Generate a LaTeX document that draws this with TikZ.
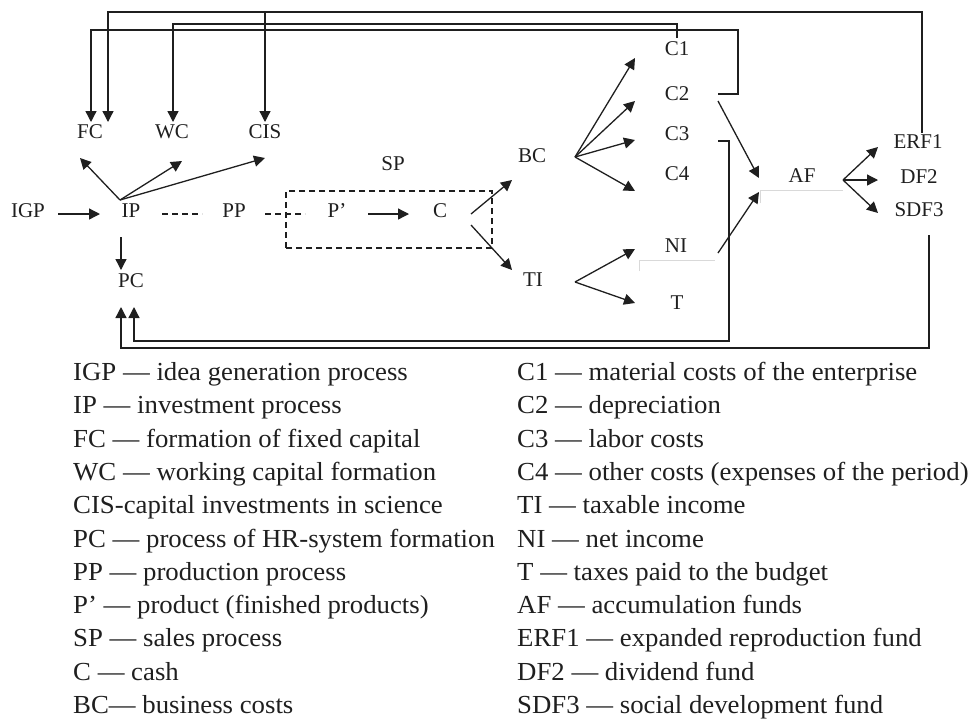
\documentclass[tikz,border=0pt]{standalone}
\usepackage{fontspec}
\setmainfont{Liberation Serif}
\newfontfamily\legfont[FakeStretch=1.03]{Liberation Serif}
\usetikzlibrary{arrows.meta,calc}
\begin{document}
\begin{tikzpicture}[x=1pt,y=-1pt,
  lbl/.style={inner sep=0pt, text height=0.7em, text depth=0pt, font=\fontsize{21}{25}\selectfont, text=black!88},
  leg/.style={anchor=west, inner sep=0pt, text height=0.7em, text depth=0pt, font=\legfont\fontsize{26}{31}\selectfont, text=black!88},
  ln/.style={line width=1.3pt, black!88},
  ar/.style={ln, -{Triangle[length=11pt,width=11pt]}},
  dsh/.style={line width=1.3pt, black!88, dash pattern=on 6pt off 4pt},
  faint/.style={line width=0.8pt, gray!30}]
\useasboundingbox (0,0) rectangle (976,724);

% ---- labels
\node[lbl] (IGP) at (28,214) {IGP};
\node[lbl] (IP)  at (131,214) {IP};
\node[lbl] (PP)  at (234,214) {PP};
\node[lbl] (Pp)  at (337,214) {P’};
\node[lbl] (C)   at (440,214) {C};
\node[lbl] (PC)  at (131,284) {PC};
\node[lbl] (FC)  at (90,135) {FC};
\node[lbl] (WC)  at (172,135) {WC};
\node[lbl] (CIS) at (265,135) {CIS};
\node[lbl] (SP)  at (393,167) {SP};
\node[lbl] (BC)  at (532,159) {BC};
\node[lbl] (TI)  at (533,283) {TI};
\node[lbl] (C1)  at (677,52) {C1};
\node[lbl] (C2)  at (677,97) {C2};
\node[lbl] (C3)  at (677,137) {C3};
\node[lbl] (C4)  at (677,177) {C4};
\node[lbl] (NI)  at (676,249) {NI};
\node[lbl] (T)   at (677,306) {T};
\node[lbl] (AF)  at (802,179) {AF};
\node[lbl] (ERF1) at (918,145) {ERF1};
\node[lbl] (DF2)  at (919,180) {DF2};
\node[lbl] (SDF3) at (919,213) {SDF3};

% ---- dashed box (sales process)
\node[dsh, draw, minimum width=206pt, minimum height=57pt, inner sep=0pt] (SPbox) at (389,219.5) {};

% ---- main flow
\draw[ar]  ($(IGP)+(30,0)$) -- ($(IP)+(-31,0)$);
\draw[dsh] ($(IP)+(31,0)$) -- ($(PP)+(-32,0)$);
\draw[dsh] ($(PP)+(31,0)$) -- ($(Pp)+(-32,0)$);
\draw[ar]  ($(Pp)+(31,0)$) -- ($(C)+(-31,0)$);
\draw[ar]  ($(IP)+(-10,23)$) -- ($(PC)+(-10,-14)$);

% IP fan
\draw[ar] ($(IP)+(-11,-14)$) -- ($(FC)+(-10,23)$);
\draw[ar] ($(IP)+(-11,-14)$) -- ($(WC)+(10,26)$);
\draw[ar] ($(IP)+(-11,-14)$) -- ($(CIS)+(0,23)$);

% C to BC / TI
\draw[ar] ($(C)+(31,0)$) -- ($(BC)+(-20,21)$);
\draw[ar] ($(C)+(31,11)$) -- ($(TI)+(-21,-13)$);

% BC fan
\draw[ar] ($(BC)+(43,-2)$) -- ($(C1)+(-42,6)$);
\draw[ar] ($(BC)+(43,-2)$) -- ($(C2)+(-42,4)$);
\draw[ar] ($(BC)+(43,-2)$) -- ($(C3)+(-42,3)$);
\draw[ar] ($(BC)+(43,-2)$) -- ($(C4)+(-42,14)$);

% TI fan
\draw[ar] ($(TI)+(42,-1)$) -- ($(NI)+(-41,0)$);
\draw[ar] ($(TI)+(42,-1)$) -- ($(T)+(-42,-3)$);

% into AF
\draw[ar] ($(C2)+(41,4)$) -- ($(AF)+(-43,-1)$);
\draw[ar] ($(NI)+(42,4)$) -- ($(AF)+(-43,13)$);

% AF fan
\draw[ar] ($(AF)+(41,1)$) -- ($(ERF1)+(-40,2)$);
\draw[ar] ($(AF)+(41,1)$) -- ($(DF2)+(-41,0)$);
\draw[ar] ($(AF)+(41,1)$) -- ($(SDF3)+(-41,0)$);

% ---- feedback lines
\draw[ar] ($(ERF1)+(4,-12)$) -- ++(0,-121) -| ($(FC)+(18,-13)$);
\draw[ar] ($(CIS)+(0,-123)$) -- ($(CIS)+(0,-13)$);
\draw[ar] ($(C1)+(0,-14)$) -- ++(0,-14) -| ($(WC)+(1,-13)$);
\draw[ar] ($(C2)+(41,-3)$) -- ++(20,0) -- ++(0,-64) -| ($(FC)+(1,-13)$);
\draw[ar] ($(C3)+(41,4)$) -- ++(11,0) -- ++(0,200) -| ($(PC)+(3,23)$);
\draw[ar] ($(SDF3)+(10,22)$) -- ++(0,113) -| ($(PC)+(-10,23)$);

% faint scan lines
\draw[faint] ($(AF)+(-42,24)$) -- ($(AF)+(-42,11)$) -- ($(AF)+(41,11)$);
\draw[faint] ($(NI)+(-37,22)$) -- ($(NI)+(-37,11)$) -- ($(NI)+(39,11)$);

% ---- legend
\foreach \t [count=\i from 0] in {IGP — idea generation process, IP — investment process, FC — formation of fixed capital, WC — working capital formation, CIS-capital investments in science, PC — process of HR-system formation, PP — production process, P’ — product (finished products), SP — sales process, C — cash, BC— business costs}
  \node[leg] (L\i) at (73,377+33.3*\i) {\t};
\foreach \t [count=\i from 0] in {C1 — material costs of the enterprise, C2 — depreciation, C3 — labor costs, C4 — other costs (expenses of the period), TI — taxable income, NI — net income, T — taxes paid to the budget, AF — accumulation funds, ERF1 — expanded reproduction fund, DF2 — dividend fund, SDF3 — social development fund}
  \node[leg] (R\i) at (517,377+33.3*\i) {\t};
\end{tikzpicture}
\end{document}
